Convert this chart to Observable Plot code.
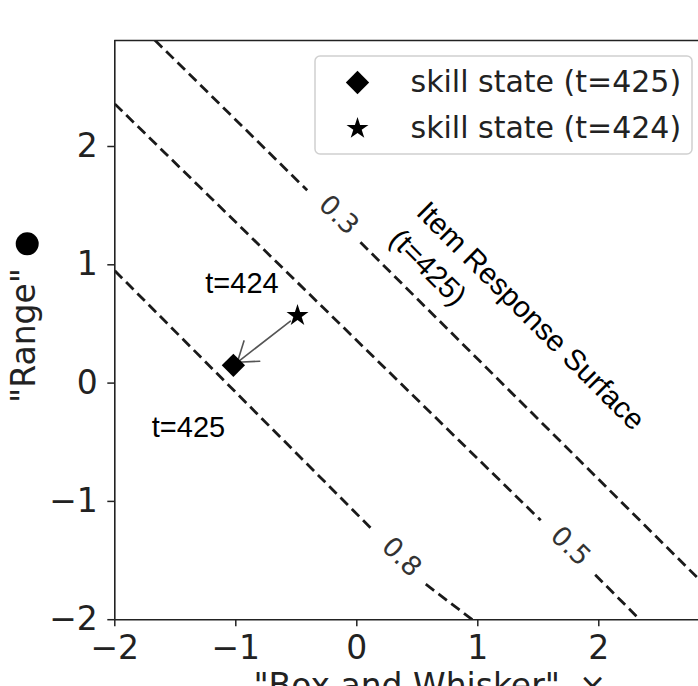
<!DOCTYPE html>
<html>
<head>
<meta charset="utf-8">
<script src="https://cdn.jsdelivr.net/npm/d3@7"></script>
<script src="https://cdn.jsdelivr.net/npm/@observablehq/plot@0.6"></script>
<style>
  html, body { margin: 0; padding: 0; background: white; overflow: hidden; }
</style>
</head>
<body>
<div id="chart"></div>
<script>
// ---- data ----
const xTicks = [-2, -1, 0, 1, 2];
const yTicks = [-2, -1, 0, 1, 2];

// contour levels and their dashed segments (pairs of points, with a gap for the inline label)
const contourLevels = ["0.3", "0.5", "0.8"];
const contour03 = [[-1.67, 2.90], [-0.41, 1.63], [0.03, 1.19], [2.83, -1.66]];
const contour05 = [[-2.00, 2.36], [1.52, -1.16], [1.97, -1.62], [2.34, -2.00]];
const contour08 = [[-2.00, 0.95], [0.13, -1.24], [0.57, -1.70], [0.955, -2.00]];
const contourLabelX = [-0.15, 1.765, 0.37];
const contourLabelY = [1.42, -1.38, -1.47];

// skill states
const stateNames = ["skill state (t=425)", "skill state (t=424)"];
const stateSymbols = ["diamond2", "star"];
const stateX = [-1.02, -0.49];
const stateY = [0.15, 0.57];
const stateTags = ["t=425", "t=424"];

// ---- build tables ----
const segments = [];
[contour03, contour05, contour08].forEach((pts, k) => {
  for (let i = 0; i < pts.length; i += 2) {
    segments.push({level: contourLevels[k], x1: pts[i][0], y1: pts[i][1], x2: pts[i + 1][0], y2: pts[i + 1][1]});
  }
});
const contourLabels = contourLevels.map((l, i) => ({label: l, x: contourLabelX[i], y: contourLabelY[i]}));
const states = stateNames.map((n, i) => ({name: n, symbol: stateSymbols[i], x: stateX[i], y: stateY[i], tag: stateTags[i]}));
const moves = [{x1: stateX[1], y1: stateY[1], x2: stateX[0], y2: stateY[0]}];

const yTop = 2.896;
const ink = "#222";
const fmt = d => (d < 0 ? "\u2212" + (-d) : String(d));
const rotation = 44.35;

const legendBox = () => {
  const r = document.createElementNS("http://www.w3.org/2000/svg", "rect");
  r.setAttribute("x", 315); r.setAttribute("y", 56);
  r.setAttribute("width", 377); r.setAttribute("height", 98);
  r.setAttribute("rx", 5);
  r.setAttribute("fill", "white"); r.setAttribute("fill-opacity", 0.85);
  r.setAttribute("stroke", "#d0d0d0"); r.setAttribute("stroke-width", 1.5);
  return r;
};

const chart = Plot.plot({
  width: 698,
  height: 686,
  marginLeft: 114.3,
  marginRight: 0,
  marginTop: 40,
  marginBottom: 66.8,
  style: {fontFamily: "DejaVu Sans", fontSize: "33px", background: "white", color: ink},
  x: {domain: [-2, 2.824]},
  y: {domain: [-2, yTop]},
  marks: [
    // contour lines
    Plot.link(segments, {x1: "x1", y1: "y1", x2: "x2", y2: "y2", stroke: "#1a1a1a", strokeWidth: 2.8, strokeDasharray: "10.5,5.5", clip: true}),
    Plot.text(contourLabels, {x: "x", y: "y", text: "label", rotate: rotation, fontSize: 27, fill: "#333", fontFamily: "DejaVu Sans"}),
    // frame lines
    Plot.ruleX([-2], {stroke: ink, strokeWidth: 1.6}),
    Plot.ruleY([-2], {stroke: ink, strokeWidth: 1.6}),
    Plot.ruleY([yTop], {stroke: ink, strokeWidth: 1.6}),
    // axes
    Plot.axisX({ticks: xTicks, tickFormat: fmt, tickSize: 7, tickPadding: 9, fontSize: 33, label: null, color: ink, strokeWidth: 1.5}),
    Plot.axisY({ticks: yTicks, tickFormat: fmt, tickSize: 7, tickPadding: 10, fontSize: 33, label: null, color: ink, strokeWidth: 1.5}),
    Plot.text(['"Box and Whisker"'], {frameAnchor: "bottom", textAnchor: "middle", lineAnchor: "top", dy: 53.8, fontSize: 33, fill: ink}),
    Plot.text(["\u00d7"], {frameAnchor: "bottom", textAnchor: "middle", lineAnchor: "top", dy: 53.8, dx: 186, fontSize: 33, fill: ink}),
    Plot.text(['"Range"'], {frameAnchor: "left", textAnchor: "middle", lineAnchor: "middle", rotate: -90, dx: -90.3, dy: 5.4, fontSize: 33, fill: ink}),
    Plot.dot([0], {frameAnchor: "left", dx: -87.6, dy: -86.3, r: 11.5, fill: "black", stroke: "none"}),
    // movement arrow
    Plot.arrow(moves, {x1: "x1", y1: "y1", x2: "x2", y2: "y2", stroke: "#555", strokeWidth: 1.6, headLength: 21, headAngle: 70, insetStart: 9, insetEnd: 5}),
    // skill states
    Plot.dot(states.filter(d => d.symbol === "diamond2"), {x: "x", y: "y", symbol: "diamond2", r: 10.5, fill: "black", stroke: "none"}),
    Plot.dot(states.filter(d => d.symbol === "star"), {x: "x", y: "y", symbol: "star", r: 6.9, fill: "black", stroke: "none"}),
    // annotations
    Plot.text([states[1]], {x: () => -0.949, y: () => 0.839, text: "tag", fontFamily: "Liberation Sans", fontSize: 29, fill: "black"}),
    Plot.text([states[0]], {x: () => -1.391, y: () => -0.375, text: "tag", fontFamily: "Liberation Sans", fontSize: 29, fill: "black"}),
    Plot.text(["Item Response Surface\n(t=425)"], {x: () => 0.44, y: () => 1.39, text: d => d, rotate: 45, textAnchor: "start", lineHeight: 1.3, fontFamily: "Liberation Sans", fontSize: 29.5, fill: "black"}),
    // legend
    legendBox,
    Plot.dot(states.filter(d => d.symbol === "diamond2"), {frameAnchor: "top-left", dx: 242.7, dy: 42, symbol: "diamond2", r: 10.5, fill: "black", stroke: "none"}),
    Plot.dot(states.filter(d => d.symbol === "star"), {frameAnchor: "top-left", dx: 242.7, dy: 88, symbol: "star", r: 6.9, fill: "black", stroke: "none"}),
    Plot.text([states[0]], {frameAnchor: "top-left", dx: 295.7, dy: 42, text: "name", textAnchor: "start", lineAnchor: "middle", fontSize: 30, fill: ink}),
    Plot.text([states[1]], {frameAnchor: "top-left", dx: 295.7, dy: 88, text: "name", textAnchor: "start", lineAnchor: "middle", fontSize: 30, fill: ink})
  ]
});
document.getElementById("chart").append(chart);
</script>
</body>
</html>
